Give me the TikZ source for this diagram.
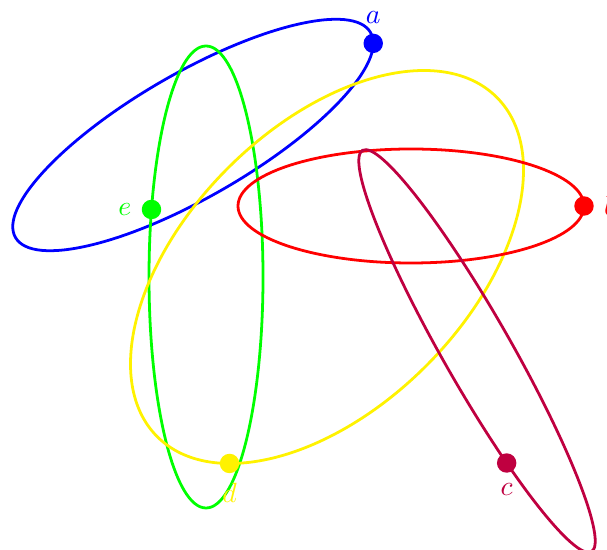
\documentclass[tikz,border=0pt]{standalone}
\begin{document}
\begin{tikzpicture}[x=0.36pt,y=0.36pt,
  edge/.style={line width=1pt},
  dot/.style={circle,inner sep=0pt,minimum size=7pt}]
\useasboundingbox (0,0) rectangle (607,549);
% blue hyperedge
\begin{scope}[shift={(193,414)},rotate=30]
  \draw[edge,blue] (0,0) ellipse [x radius=205,y radius=62];
  \node[dot,fill=blue,label={[blue]above:$a$}] (a) at (-10:205 and 62) {};
\end{scope}
% green hyperedge
\begin{scope}[shift={(206,272)}]
  \draw[edge,green] (0,0) ellipse [x radius=57,y radius=231];
  \node[dot,fill=green,label={[green]left:$e$}] (e) at (163:57 and 231) {};
\end{scope}
% yellow hyperedge
\begin{scope}[shift={(327,282)},rotate=45]
  \draw[edge,yellow] (0,0) ellipse [x radius=240,y radius=140];
  \node[dot,fill=yellow,label={[yellow]below:$d$}] (d) at (210:240 and 140) {};
\end{scope}
% red hyperedge
\begin{scope}[shift={(411,343)}]
  \draw[edge,red] (0,0) ellipse [x radius=173,y radius=57];
  \node[dot,fill=red,label={[red]right:$b$}] (b) at (0:173 and 57) {};
\end{scope}
% purple hyperedge
\begin{scope}[shift={(477,198)},rotate=-60.3]
  \draw[edge,purple] (0,0) ellipse [x radius=231,y radius=34];
  \node[dot,fill=purple,label={[purple]below:$c$}] (c) at (-61:231 and 34) {};
\end{scope}
\end{tikzpicture}
\end{document}
